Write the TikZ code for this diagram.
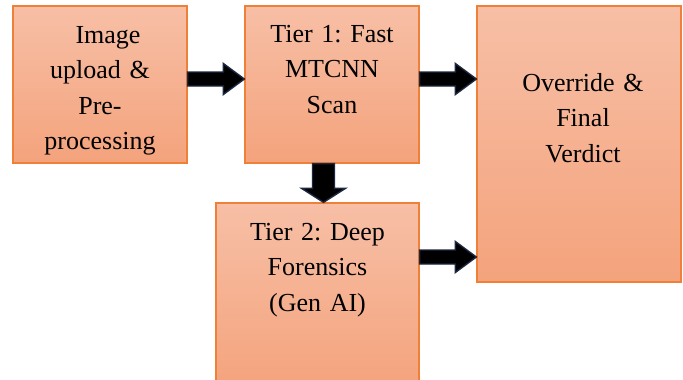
\documentclass[tikz,border=0pt]{standalone}
\usepackage{fontspec}
\setmainfont{Liberation Serif}
\usetikzlibrary{calc}
\definecolor{boxtop}{RGB}{247,191,166}
\definecolor{boxbot}{RGB}{244,163,124}
\definecolor{boxline}{RGB}{238,128,56}
\definecolor{arrline}{RGB}{28,40,66}
\tikzset{
  box/.style={rectangle, draw=boxline, line width=1.3pt, top color=boxtop, bottom color=boxbot, inner sep=0pt},
  boxtext/.style={anchor=base, align=center, text width=170pt, inner sep=0pt, font=\fontsize{26}{35.5}\selectfont\frenchspacing},
  barrow/.style={fill=black, draw=arrline, line width=1.4pt, line join=miter}
}
\begin{document}
\begin{tikzpicture}[x=1pt,y=-1pt]
\useasboundingbox (0,0) rectangle (683,380);
% boxes
\node[box, minimum width=174pt, minimum height=157pt] (A) at (100,84.5) {};
\node[box, minimum width=174pt, minimum height=157pt] (B) at (332,84.5) {};
\node[box, minimum width=203pt, minimum height=187pt] (C) at (317.5,296.5) {};
\node[box, minimum width=204pt, minimum height=276pt] (D) at (579,144) {};
% texts
\node[boxtext] (tA) at (100,43) {\hspace*{16pt}Image\\upload \&\\Pre-\\processing};
\node[boxtext] (tB) at (332,42) {Tier 1: Fast\\MTCNN\\Scan};
\node[boxtext] (tC) at (317.5,240) {Tier 2: Deep\\Forensics\\(Gen AI)};
\node[boxtext] (tD) at (583,91) {Override \&\hspace*{7pt}\\Final\\Verdict};
% arrow tips
\coordinate (t1) at (B.west |- 0,79);
\coordinate (t2) at (D.west |- 0,79);
\coordinate (t3) at (C.north -| 323.5,0);
\coordinate (t4) at (D.west |- 0,257);
\coordinate (s1) at (A.east |- t1);
\coordinate (s2) at (B.east |- t2);
\coordinate (s3) at (B.south -| t3);
\coordinate (s4) at (C.east |- t4);
% horizontal block arrows
\foreach \s/\t in {s1/t1, s2/t2, s4/t4}{
  \draw[barrow] ($(\s)+(0,-7)$) -- ($(\t)+(-21,-7)$) -- ($(\t)+(-21,-15.5)$) -- (\t)
     -- ($(\t)+(-21,15.5)$) -- ($(\t)+(-21,7)$) -- ($(\s)+(0,7)$) -- cycle;
}
% vertical block arrow
\draw[barrow] ($(s3)+(-11,0)$) -- ($(t3)+(-11,-14)$) -- ($(t3)+(-22,-14)$) -- (t3)
   -- ($(t3)+(22,-14)$) -- ($(t3)+(11,-14)$) -- ($(s3)+(11,0)$) -- cycle;
\end{tikzpicture}
\end{document}
